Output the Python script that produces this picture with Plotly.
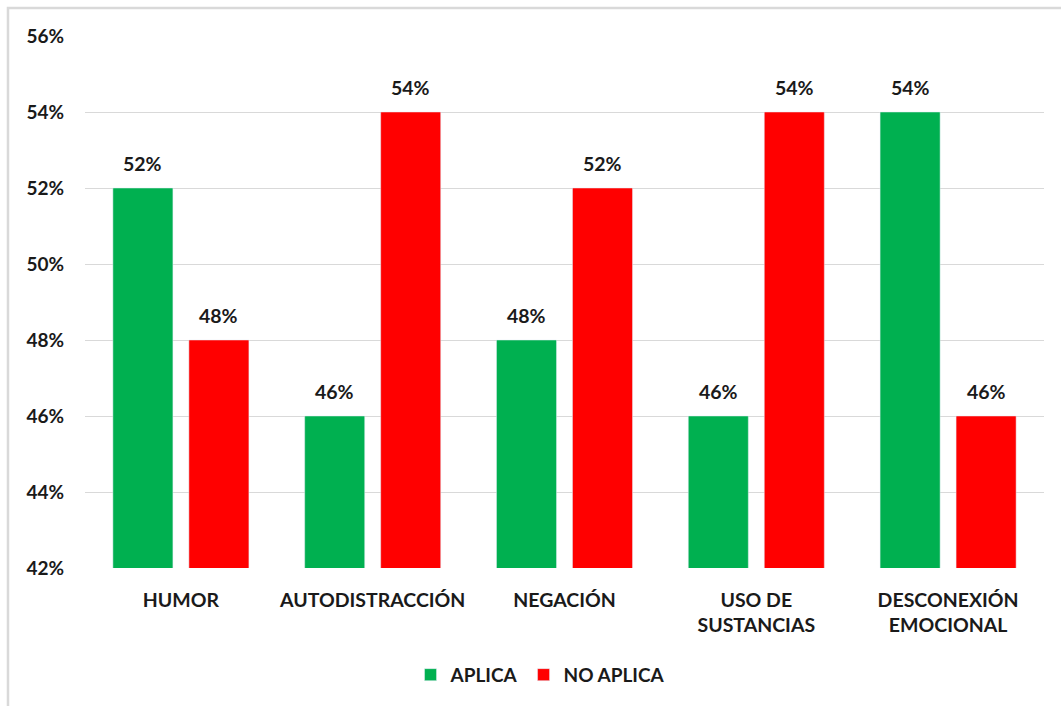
import plotly.graph_objects as go

categories = ["HUMOR", "AUTODISTRACCIÓN", "NEGACIÓN", "USO DE<br>SUSTANCIAS", "DESCONEXIÓN<br>EMOCIONAL"]
aplica = [0.52, 0.46, 0.48, 0.46, 0.54]
no_aplica = [0.48, 0.54, 0.52, 0.54, 0.46]
tick_vals = [0.42, 0.44, 0.46, 0.48, 0.50, 0.52, 0.54, 0.56]

FONT = "Lato"
TXT = "#1a1a1a"
fig = go.Figure()
fig.add_trace(go.Bar(x=categories, y=aplica, name="APLICA", marker_color="#00B050"))
fig.add_trace(go.Bar(x=categories, y=no_aplica, name="NO APLICA", marker_color="#FF0000"))

annotations = []
for vals, shift in ((aplica, -38), (no_aplica, 38)):
    for c, v in zip(categories, vals):
        annotations.append(dict(x=c, y=v, xref="x", yref="y", text=f"{v:.0%}",
                                showarrow=False, xshift=shift, yshift=25,
                                font=dict(family=FONT, size=19.5, color=TXT, weight="bold")))

fig.update_layout(
    width=1061, height=706,
    margin=dict(l=85, r=17, t=36, b=136),
    paper_bgcolor="white", plot_bgcolor="white",
    barmode="group", bargap=0.2075, bargroupgap=0.21,
    font=dict(family=FONT, size=18, color=TXT, weight="bold"),
    showlegend=True,
    legend=dict(orientation="h", x=0.475, xanchor="center", y=-0.165, yanchor="top",
                font=dict(family=FONT, size=19, color=TXT, weight="bold"), itemwidth=30,
                traceorder="normal"),
    annotations=annotations,
    shapes=[dict(type="rect", xref="paper", yref="paper", x0=-0.0803, x1=1.2,
                 y0=-0.5, y1=1.0524, line=dict(color="#d9d9d9", width=2.5))],
)
fig.update_xaxes(tickfont=dict(family=FONT, size=19.5, color=TXT, weight="bold"), showline=False,
                 ticks="", ticklabelstandoff=18)
fig.update_yaxes(range=[0.42, 0.56], tickvals=tick_vals, tickformat=".0%",
                 showgrid=True, gridcolor="#d9d9d9", gridwidth=1, zeroline=False,
                 tickfont=dict(family=FONT, size=19, color=TXT, weight="bold"), ticklabelstandoff=20)

fig.write_html("out.html")
